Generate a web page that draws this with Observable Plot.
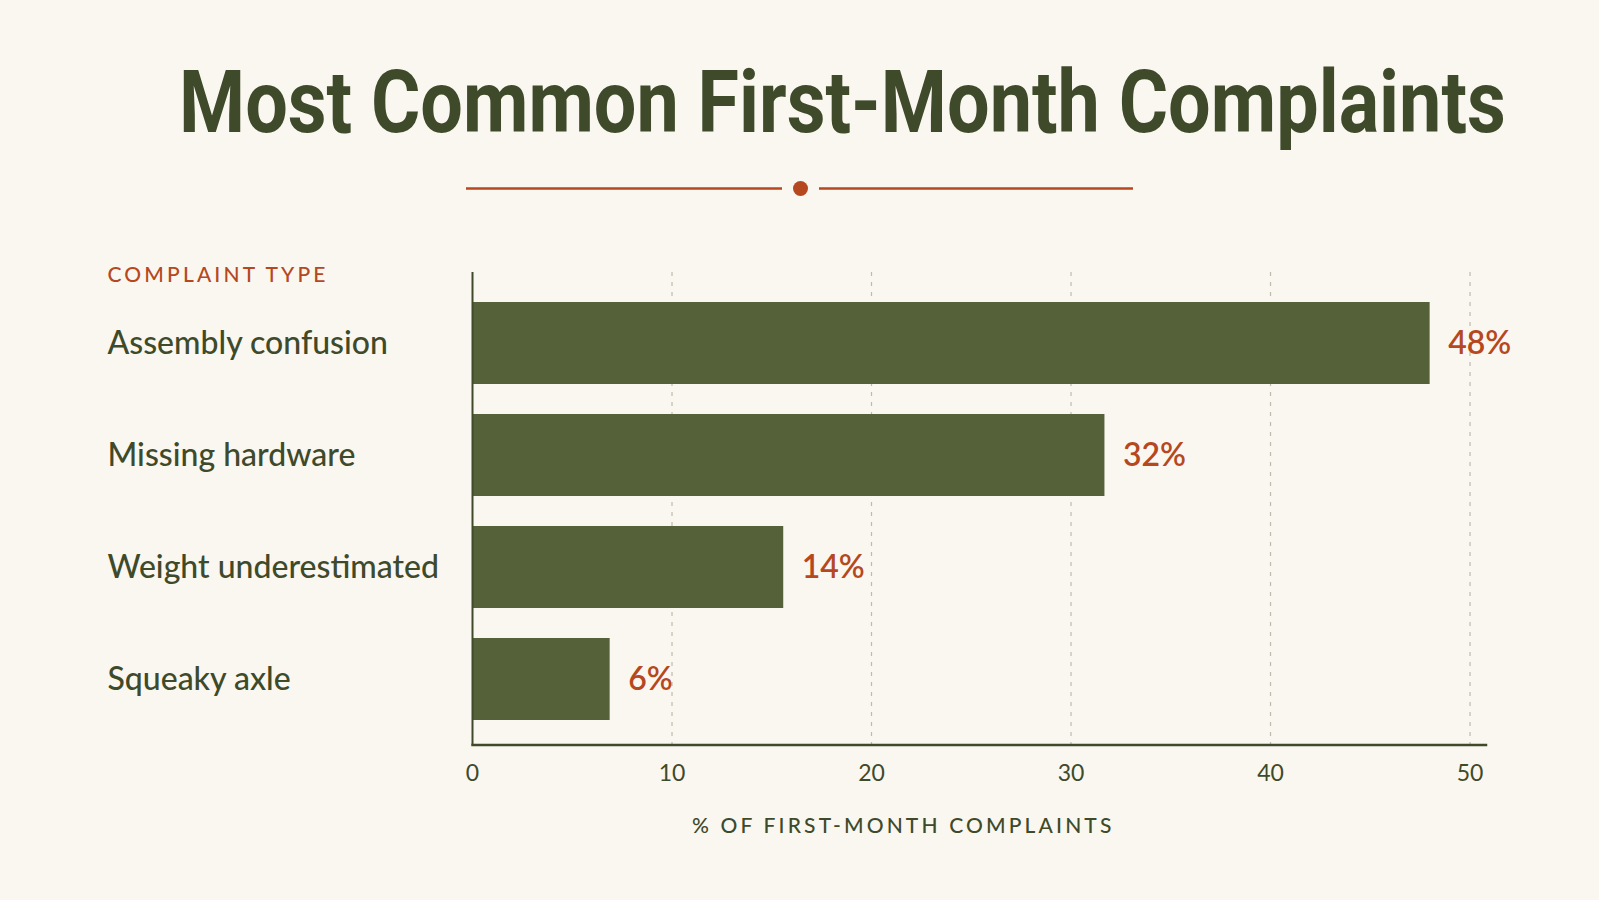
<!DOCTYPE html>
<html>
<head>
<meta charset="utf-8">
<script src="https://cdn.jsdelivr.net/npm/d3@7"></script>
<script src="https://cdn.jsdelivr.net/npm/@observablehq/plot@0.6"></script>
<style>
  html, body { margin: 0; padding: 0; background: #faf7f0; }
  #page { position: relative; width: 1599px; height: 900px; overflow: hidden; background: #faf7f0; }
  #deco { position: absolute; left: 0; top: 0; }
  #chart { position: absolute; left: 0; top: 0; }
</style>
</head>
<body>
<div id="page">
  <svg id="deco" width="1599" height="220">
    <text id="title" x="0" y="132.5"
      font-family="Roboto, 'Open Sans', sans-serif" font-weight="700" font-size="88" fill="#3e4a2a">Most Common First-Month Complaints</text>
    <line x1="466" x2="782" y1="188.5" y2="188.5" stroke="#b5481e" stroke-width="2.5"/>
    <circle cx="800.5" cy="188.5" r="7.5" fill="#b5481e"/>
    <line x1="819" x2="1133" y1="188.5" y2="188.5" stroke="#b5481e" stroke-width="2.5"/>
  </svg>
  <div id="chart"></div>
</div>
<script>
// Data
const complaintTypes = ["Assembly confusion", "Missing hardware", "Weight underestimated", "Squeaky axle"];
const barValues = [48, 31.7, 15.6, 6.9];          // bar lengths as drawn
const percentLabels = ["48%", "32%", "14%", "6%"]; // printed value labels
const xTicks = [0, 10, 20, 30, 40, 50];
const gridTicks = [10, 20, 30, 40, 50];
const yAxisTitle = ["COMPLAINT TYPE"];
const xAxisTitle = ["% OF FIRST-MONTH COMPLAINTS"];

const rows = complaintTypes.map((t, i) => ({type: t, value: barValues[i], label: percentLabels[i]}));

const olive = "#3e4a2a";
const barFill = "#556139";
const rust = "#b5481e";
const font = "Lato, 'Open Sans', sans-serif";

// Condense the title horizontally so it spans the same width as the reference
const title = document.getElementById("title");
const natural = title.getComputedTextLength();
const sx = 1327 / natural;
title.setAttribute("transform", `translate(179,0) scale(${sx},1)`);

const chart = Plot.plot({
  width: 1599,
  height: 900,
  marginTop: 272,
  marginBottom: 155.5,
  marginLeft: 472,
  marginRight: 113.5,
  style: {background: "transparent", color: olive, fontFamily: font, overflow: "visible"},
  x: {domain: [0, 50.8]},
  y: {domain: complaintTypes, paddingInner: 0.27, paddingOuter: 0.237, align: 0.54},
  marks: [
    Plot.ruleX(gridTicks, {stroke: "#bfbaac", strokeWidth: 1.2, strokeDasharray: "4 6"}),
    Plot.barX(rows, {x: "value", y: "type", fill: barFill}),
    Plot.ruleX([0], {stroke: olive, strokeWidth: 2}),
    Plot.frame({anchor: "bottom", stroke: olive, strokeWidth: 2.5}),
    Plot.text(rows, {x: "value", y: "type", text: "label", dx: 18, textAnchor: "start",
      fill: rust, fontSize: 32, fontWeight: 600, fontFamily: font}),
    Plot.axisY({tickSize: 0, tickPadding: 0, textAnchor: "start", dx: -365, label: null,
      fontSize: 32, fontWeight: 500, fill: olive}),
    Plot.axisX({ticks: xTicks, tickSize: 0, tickPadding: 20, label: null,
      fontSize: 23, fill: olive}),
    Plot.text(yAxisTitle, {frameAnchor: "top-left", dx: -365, dy: 3, text: d => d,
      textAnchor: "start", lineAnchor: "middle", fill: rust, fontSize: 21, fontWeight: 500}),
    Plot.text(xAxisTitle, {frameAnchor: "bottom", dx: -76, dy: 81.5, text: d => d,
      lineAnchor: "middle", fill: olive, fontSize: 21, fontWeight: 500})
  ]
});
chart.querySelectorAll("text").forEach(t => {
  if (t.textContent === yAxisTitle[0] || t.textContent === xAxisTitle[0]) t.style.letterSpacing = "0.15em";
});
document.getElementById("chart").appendChild(chart);
</script>
</body>
</html>
